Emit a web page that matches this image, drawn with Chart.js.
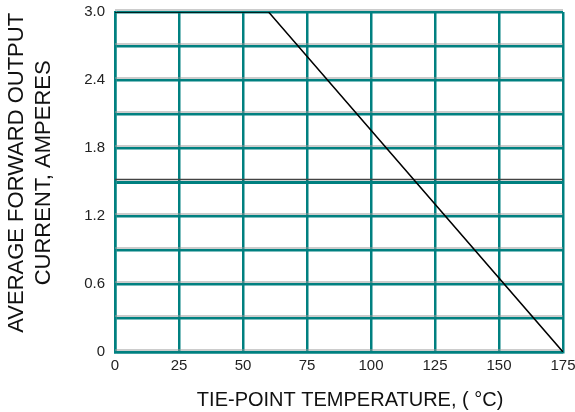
<!DOCTYPE html>
<html>
<head>
<meta charset="utf-8">
<script src="https://cdn.jsdelivr.net/npm/chart.js@4"></script>
<style>
  html, body { margin: 0; padding: 0; background: #fff; }
  #wrap { width: 575px; height: 412px; }
</style>
</head>
<body>
<div id="wrap"><canvas id="derating"></canvas></div>
<script>
// derating curve
const tempPoints = [0, 60, 175];
const currentPoints = [3.0, 3.0, 0];
const xTicks = [0, 25, 50, 75, 100, 125, 150, 175];
const yLabelTicks = [0, 0.6, 1.2, 1.8, 2.4, 3.0];

const TEAL = '#008080';
const NB = '\u00a0';

// thin grey line sitting just above every teal horizontal rule
const greyShadow = {
    id: 'greyShadow',
    beforeDatasetsDraw(chart) {
        const { ctx, chartArea, scales } = chart;
        ctx.save();
        scales.y.ticks.forEach(t => {
            const py = scales.y.getPixelForValue(t.value);
            const mid = Math.abs(t.value - 1.5) < 0.01;
            ctx.strokeStyle = mid ? '#444' : '#999';
            ctx.lineWidth = mid ? 1.5 : 1;
            ctx.beginPath();
            ctx.moveTo(chartArea.left, py - (mid ? 2.5 : 2));
            ctx.lineTo(chartArea.right, py - (mid ? 2.5 : 2));
            ctx.stroke();
        });
        ctx.restore();
    }
};

new Chart(document.getElementById('derating'), {
    type: 'scatter',
    data: {
        datasets: [{
            data: tempPoints.map((t, i) => ({ x: t, y: currentPoints[i] })),
            showLine: true,
            borderColor: '#000',
            borderWidth: 1.5,
            pointRadius: 0,
            tension: 0
        }]
    },
    options: {
        responsive: true,
        maintainAspectRatio: false,
        animation: false,
        layout: { padding: 0 },
        plugins: {
            legend: { display: false },
            tooltip: { enabled: false }
        },
        scales: {
            x: {
                type: 'linear',
                min: 0,
                max: 175,
                afterBuildTicks: (scale) => {
                    scale.ticks = xTicks.map(v => ({ value: v }));
                },
                grid: { color: TEAL, lineWidth: 2.5, drawTicks: false },
                border: { color: TEAL, width: 2.5 },
                ticks: {
                    color: '#222',
                    font: { family: 'Liberation Sans', size: 15 },
                    padding: 5,
                    maxRotation: 0
                },
                title: {
                    display: true,
                    text: NB.repeat(4) + 'TIE-POINT TEMPERATURE, ( °C)',
                    color: '#111',
                    font: { family: 'Liberation Sans', size: 20 },
                    padding: { top: 12, bottom: 0 }
                },
                afterFit: (scale) => {
                    scale.height = 60;
                    scale.paddingLeft = 0;
                    scale.paddingRight = 12;
                }
            },
            y: {
                type: 'linear',
                min: 0,
                max: 3.0,
                ticks: {
                    stepSize: 0.3,
                    color: '#222',
                    font: { family: 'Liberation Sans', size: 15 },
                    padding: 10,
                    callback: (v) => {
                        const hit = yLabelTicks.find(l => Math.abs(l - v) < 0.001);
                        if (hit === undefined) return '';
                        return hit === 0 ? '0' : hit.toFixed(1);
                    }
                },
                grid: {
                    color: TEAL,
                    lineWidth: (c) => (c.tick && Math.abs(c.tick.value - 1.5) < 0.01) ? 3 : 2.5,
                    drawTicks: false
                },
                border: { color: TEAL, width: 2.5 },
                title: {
                    display: true,
                    text: [NB.repeat(3) + 'AVERAGE FORWARD OUTPUT', NB.repeat(3) + 'CURRENT, AMPERES'],
                    color: '#111',
                    font: { family: 'Liberation Sans', size: 22, lineHeight: 1.2 },
                    padding: { top: 4, bottom: 0 }
                },
                afterFit: (scale) => {
                    scale.width = 115;
                    scale.paddingTop = 12;
                    scale.paddingBottom = 0;
                }
            }
        }
    },
    plugins: [greyShadow]
});
</script>
</body>
</html>
